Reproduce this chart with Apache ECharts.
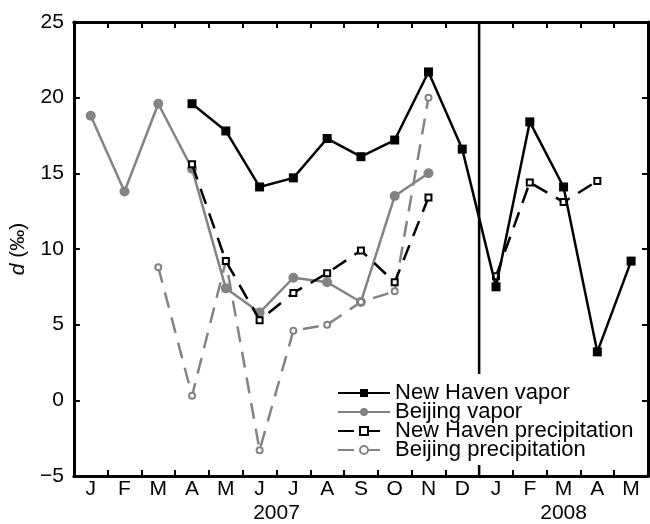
<!DOCTYPE html>
<html>
<head>
<meta charset="utf-8">
<script src="https://cdn.jsdelivr.net/npm/echarts@6/dist/echarts.min.js"></script>
<style>
html, body { margin: 0; padding: 0; background: #fff; }
#main { width: 650px; height: 524px; }
</style>
</head>
<body>
<div id="main"></div>
<script>
// month ticks, Jan 2007 .. May 2008
var months = ['J','F','M','A','M','J','J','A','S','O','N','D','J','F','M','A','M'];
var years = ['2007', '2008'];
var yearStart = [0, 12];
var yearEnd = [12, 17];

var nhVapor  = [null, null, null, 19.6, 17.8, 14.1, 14.7, 17.3, 16.1, 17.2, 21.7, 16.6, 7.5, 18.4, 14.1, 3.2, 9.2];
var bjVapor  = [18.8, 13.8, 19.6, 15.3, 7.4, 5.8, 8.1, 7.8, 6.5, 13.5, 15.0, null, null, null, null, null, null];
var nhPrecip = [null, null, null, 15.6, 9.2, 5.3, 7.1, 8.4, 9.9, 7.8, 13.4, null, 8.2, 14.4, 13.1, 14.5, null];
var bjPrecip = [null, null, 8.8, 0.3, 9.2, -3.3, 4.6, 5.0, 6.5, 7.2, 20.0, null, null, null, null, null, null];

var yearCenters = years.map(function (y, i) { return (yearStart[i] + yearEnd[i]) / 2; });

var dom = document.getElementById('main');
var myChart = echarts.init(dom);
var FONT = 'Liberation Sans, Arial, sans-serif';
var GRAY = '#838383';

var axisTxt = { color: '#000', fontSize: 21, fontFamily: FONT };
var tick = { show: true, inside: true, length: 6, lineStyle: { color: '#000', width: 2 } };
var line3 = { show: true, onZero: false, lineStyle: { color: '#000', width: 3 } };

var option = {
    animation: false,
    backgroundColor: '#fff',
    textStyle: { fontFamily: FONT },
    grid: { left: 73, right: 2, top: 22, bottom: 45 },
    legend: {
        left: 333,
        top: 374,
        orient: 'vertical',
        itemWidth: 52,
        itemHeight: 10,
        itemGap: -3,
        padding: [8, 8, 4, 4],
        backgroundColor: '#fff',
        textStyle: { color: '#000', fontSize: 22, fontFamily: FONT },
        data: ['New Haven vapor', 'Beijing vapor', 'New Haven precipitation', 'Beijing precipitation']
    },
    xAxis: [
        {
            type: 'category', position: 'bottom', data: months, boundaryGap: true,
            axisLine: line3, axisTick: tick,
            axisLabel: Object.assign({ margin: 3, interval: 0 }, axisTxt),
            splitLine: { show: false }
        },
        {
            type: 'category', position: 'top', data: months, boundaryGap: true,
            axisLine: line3, axisTick: tick, axisLabel: { show: false },
            splitLine: { show: false }
        },
        {
            type: 'value', position: 'bottom', min: 0, max: months.length,
            axisLine: { show: false, onZero: false }, axisTick: { show: false }, splitLine: { show: false },
            axisLabel: Object.assign({
                margin: 27,
                customValues: yearCenters,
                formatter: function (v) {
                    var i = yearCenters.indexOf(v);
                    return i >= 0 ? years[i] : '';
                }
            }, axisTxt)
        }
    ],
    yAxis: [
        {
            type: 'value', position: 'left', min: -5, max: 25, interval: 5,
            name: '{i|d} (‰)', nameLocation: 'middle', nameGap: 41, nameRotate: 90,
            nameTextStyle: { color: '#000', fontSize: 21, fontFamily: FONT,
                rich: { i: { fontStyle: 'italic', fontSize: 21, fontFamily: FONT, color: '#000' } } },
            axisLine: line3, axisTick: tick,
            axisLabel: Object.assign({
                margin: 10,
                formatter: function (v) { return String(v).replace('-', '\u2212'); }
            }, axisTxt),
            splitLine: { show: false }
        },
        {
            type: 'value', position: 'right', min: -5, max: 25, interval: 5,
            axisLine: line3, axisTick: tick, axisLabel: { show: false },
            splitLine: { show: false }
        }
    ],
    series: [
        {
            // divider between 2007 and 2008
            name: 'divider', type: 'line', xAxisIndex: 2, yAxisIndex: 0,
            data: [[yearStart[1], -5], [yearStart[1], 25]],
            symbol: 'none', silent: true, z: 1,
            lineStyle: { color: '#000', width: 2.5 }
        },
        {
            name: 'Beijing precipitation', type: 'line', data: bjPrecip, z: 3,
            symbol: 'circle', symbolSize: 6,
            itemStyle: { color: '#fff', borderColor: GRAY, borderWidth: 2 },
            lineStyle: { color: GRAY, width: 2.5, type: [16, 10] }
        },
        {
            name: 'Beijing vapor', type: 'line', data: bjVapor, z: 2,
            symbol: 'circle', symbolSize: 10,
            itemStyle: { color: GRAY },
            lineStyle: { color: GRAY, width: 2.5 }
        },
        {
            name: 'New Haven precipitation', type: 'line', data: nhPrecip, z: 4,
            symbol: 'rect', symbolSize: 6,
            itemStyle: { color: '#fff', borderColor: '#000', borderWidth: 2 },
            lineStyle: { color: '#000', width: 2.5, type: [16, 10] }
        },
        {
            name: 'New Haven vapor', type: 'line', data: nhVapor, z: 5,
            symbol: 'rect', symbolSize: 9,
            itemStyle: { color: '#000' },
            lineStyle: { color: '#000', width: 2.5 }
        }
    ]
};

if (option && typeof option === 'object') {
    myChart.setOption(option, true);
}
</script>
</body>
</html>
